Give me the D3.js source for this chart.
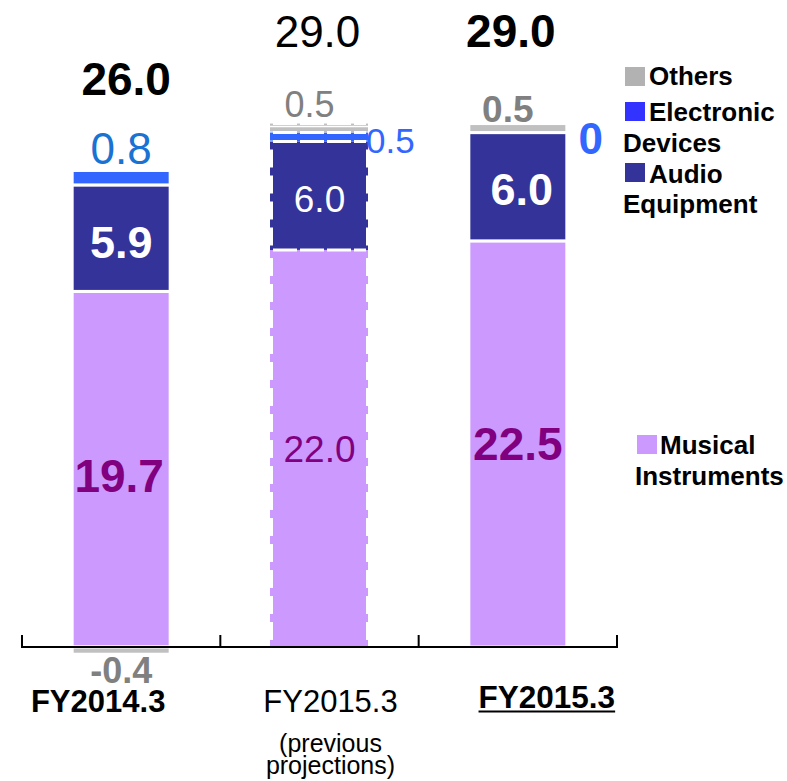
<!DOCTYPE html>
<html>
<head>
<meta charset="utf-8">
<script src="https://cdn.jsdelivr.net/npm/d3@7"></script>
<style>
  html, body { margin: 0; padding: 0; background: #fff; }
  svg { display: block; font-family: "Liberation Sans", Arial, Helvetica, sans-serif; }
</style>
</head>
<body>
<svg id="chart" width="787" height="781"></svg>
<script>
// Net sales by segment (billions of yen)
const periods = ["FY2014.3", "FY2015.3", "FY2015.3"];
const periodNotes = ["", "(previous projections)", ""];
const musical = [19.7, 22.0, 22.5];
const audio = [5.9, 6.0, 6.0];
const electronic = [0.8, 0.5, 0];
const others = [-0.4, 0.5, 0.5];
const totals = [26.0, 29.0, 29.0];

const segments = ["musical", "audio", "electronic", "others"];
const segmentNames = {
  others: "Others",
  electronic: "Electronic Devices",
  audio: "Audio Equipment",
  musical: "Musical Instruments"
};
const fillColor = { musical: "#cc99ff", audio: "#333399", electronic: "#3366ff", others: "#c0c0c0" };
const legendColor = { musical: "#cc99ff", audio: "#333399", electronic: "#3333ff", others: "#b2b2b2" };

const rows = periods.map((p, i) => ({
  idx: i, musical: musical[i], audio: audio[i], electronic: electronic[i], others: others[i]
}));

const svg = d3.select("#chart");
const FONT = "'Liberation Sans', Arial, Helvetica, sans-serif";

const x = d3.scaleBand().domain(d3.range(periods.length)).range([22, 617]);
const barW = 95;
const cx = i => x(i) + x.bandwidth() / 2;
const y = d3.scaleLinear().domain([0, 29]).range([647, 647 - 29 * 18.05]);

const stack = d3.stack().keys(segments).offset(d3.stackOffsetDiverging);
const series = stack(rows);

const projected = i => periodNotes[i] !== "";

// solid bars: white outline gives the gaps between segments
const gBars = svg.append("g");
series.forEach(s => {
  const key = s.key;
  s.forEach((d, i) => {
    if (d[1] === d[0]) return;
    const top = y(Math.max(d[0], d[1])), bot = y(Math.min(d[0], d[1]));
    if (!projected(i)) {
      gBars.append("rect")
        .attr("x", cx(i) - barW / 2 - 1.5)
        .attr("width", barW + 3)
        .attr("y", top)
        .attr("height", bot - top)
        .attr("fill", fillColor[key])
        .attr("stroke", "#fff")
        .attr("stroke-width", 3);
    } else {
      // projected bar: dashed outline style
      gBars.append("rect")
        .attr("x", cx(i) - barW / 2 + 1)
        .attr("width", barW - 2)
        .attr("y", top)
        .attr("height", bot - top)
        .attr("fill", fillColor[key]);
      [cx(i) - barW / 2 - 0.5, cx(i) + barW / 2 - 0.5].forEach(lx => {
        gBars.append("line")
          .attr("x1", lx).attr("x2", lx)
          .attr("y1", top).attr("y2", bot)
          .attr("stroke", fillColor[key])
          .attr("stroke-width", 3)
          .attr("stroke-dasharray", "8,18");
      });
    }
  });
});

// dashed white separators on the projected bar
rows.forEach((r, i) => {
  if (!projected(i)) return;
  let acc = 0;
  segments.forEach(k => {
    acc += r[k];
    gBars.append("line")
      .attr("x1", cx(i) - barW / 2 + 1).attr("x2", cx(i) + barW / 2 - 1)
      .attr("y1", y(acc)).attr("y2", y(acc))
      .attr("stroke", "#fff")
      .attr("stroke-width", 3)
      .attr("stroke-dasharray", "24,3");
  });
  // thin band above the top segment
  gBars.append("line")
    .attr("x1", cx(i) - barW / 2 - 2).attr("x2", cx(i) + barW / 2 + 1)
    .attr("y1", y(r.musical + r.audio + r.electronic + r.others) + 3)
    .attr("y2", y(r.musical + r.audio + r.electronic + r.others) + 3)
    .attr("stroke", "#fff").attr("stroke-width", 1.5);
});

// x axis with tick marks on band boundaries
const gAxis = svg.append("g");
gAxis.append("line")
  .attr("x1", 22).attr("x2", 617)
  .attr("y1", y(0)).attr("y2", y(0))
  .attr("stroke", "#000").attr("stroke-width", 2);
const tickXs = d3.range(periods.length).map(i => x(i)).concat([x.range()[1]]);
tickXs.forEach(tx => {
  gAxis.append("line")
    .attr("x1", tx).attr("x2", tx)
    .attr("y1", y(0) + 1).attr("y2", y(0) - 12)
    .attr("stroke", "#000").attr("stroke-width", 2);
});

function label(txt, px, py, size, color, bold, anchor) {
  return svg.append("text")
    .attr("x", px).attr("y", py)
    .attr("font-family", FONT)
    .attr("font-size", size)
    .attr("font-weight", bold ? "bold" : "normal")
    .attr("fill", color)
    .attr("text-anchor", anchor || "middle")
    .text(txt);
}

// plain hyphen for negative values
const locale = d3.formatLocale({ decimal: ".", thousands: ",", grouping: [3], currency: ["", ""], minus: "-" });
const fmt = locale.format(".1f");
const boldPeriod = i => !projected(i);

// totals
totals.forEach((t, i) => {
  const dx = [5, -2, -7][i];
  const py = i === 0 ? y(t) - 83 : y(t) - 77;
  label(fmt(t), cx(i) + dx, py, i === 1 ? 44 : 46, "#000", boldPeriod(i));
});

// segment values
rows.forEach((r, i) => {
  const b = boldPeriod(i);
  const c = cx(i);
  // musical instruments
  const mMid = (y(0) + y(r.musical)) / 2;
  label(fmt(r.musical), c + (i === 0 ? -2 : 0) , mMid + (i === 0 ? 23 : (i === 1 ? 14 : 16)), b ? 46 : 37, "#800080", b);
  // audio equipment
  const aMid = (y(r.musical) + y(r.musical + r.audio)) / 2;
  label(fmt(r.audio), c + (i === 2 ? 4 : 0), aMid + (i === 1 ? 16 : (i === 0 ? 20 : 18)), b ? 45 : 37, "#fff", b);
  // electronic devices
  const eTop = y(r.musical + r.audio + r.electronic);
  if (i === 0) {
    label(fmt(r.electronic), c, eTop - 6, 44, "#1a72d2", false);
  } else if (i === 1) {
    label(fmt(r.electronic), c + barW / 2 - 1, eTop + 20, 35, "#3366ff", false, "start");
  } else {
    label(d3.format("d")(r.electronic), c + 73, eTop + 21, 44, "#3366ff", true);
  }
  // others
  if (r.others < 0) {
    label(fmt(r.others), c, y(r.others) + 29, 36, "#808080", true);
  } else {
    const oTop = y(r.musical + r.audio + r.electronic + r.others);
    label(fmt(r.others), c - 10, oTop - (i === 1 ? 7 : 2), i === 1 ? 36 : 37, "#808080", b);
  }
});

// period labels
rows.forEach((r, i) => {
  const c = cx(i);
  if (i === 0) {
    label(periods[i], c - 23, 712, 31, "#000", true);
  } else if (i === 1) {
    label(periods[i], c + 11, 712, 31, "#000", false);
    const words = periodNotes[i].split(" ");
    words.forEach((w, k) => label(w, c + 11, 752 + k * 22, 25, "#000", false));
  } else {
    const t = label(periods[i], c + 29, 708, 31.5, "#000", true);
    const bb = t.node().getBBox();
    svg.append("line")
      .attr("x1", bb.x).attr("x2", bb.x + bb.width)
      .attr("y1", 711.5).attr("y2", 711.5)
      .attr("stroke", "#000").attr("stroke-width", 2);
  }
});

// legend
const legend = [
  { key: "others", sx: 625, sy: 67, lines: [[649, 85], null] },
  { key: "electronic", sx: 625, sy: 102, lines: [[649, 121], [623, 152]] },
  { key: "audio", sx: 625, sy: 163, lines: [[649, 183], [623, 213]] },
  { key: "musical", sx: 637, sy: 435, lines: [[660, 454], [635, 485]] }
];
legend.forEach(l => {
  svg.append("rect")
    .attr("x", l.sx).attr("y", l.sy)
    .attr("width", 20).attr("height", 19)
    .attr("fill", legendColor[l.key]);
  const words = segmentNames[l.key].split(" ");
  l.lines.forEach((pos, k) => {
    if (!pos) return;
    label(words[k], pos[0], pos[1], 26, "#000", true, "start");
  });
});
</script>
</body>
</html>
